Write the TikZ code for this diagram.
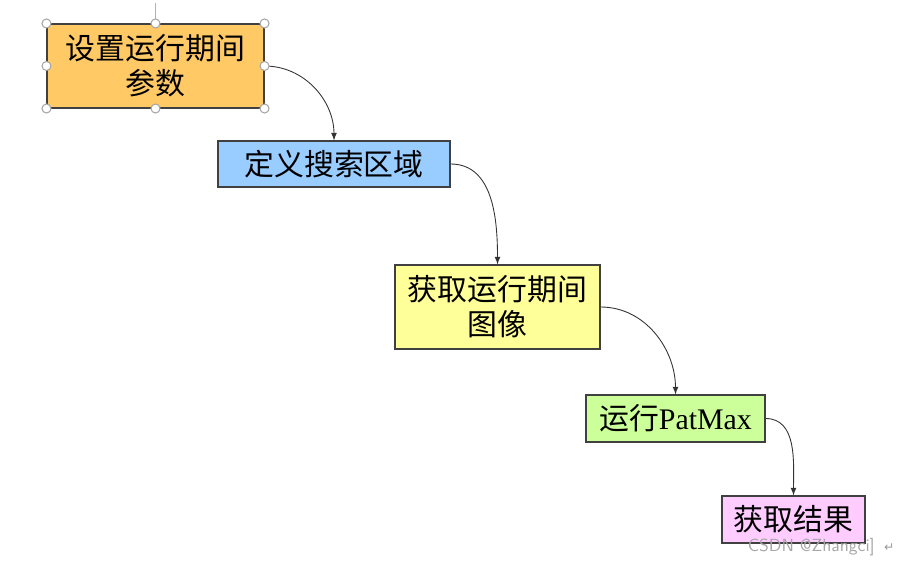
\documentclass[tikz,border=0pt]{standalone}
\usepackage{fontspec}
\setmainfont{Liberation Serif}
\newfontfamily\cjk{Noto Sans CJK SC}
\newfontfamily\marksfont{DejaVu Sans}
\usetikzlibrary{positioning}
\definecolor{paramfill}{HTML}{FFC966}
\definecolor{regionfill}{HTML}{99CCFF}
\definecolor{imagefill}{HTML}{FFFF99}
\definecolor{patmaxfill}{HTML}{CCFF99}
\definecolor{resultfill}{HTML}{FFCCFF}

\begin{document}
\begin{tikzpicture}[
    % Basic styling
    every node/.style={
        align=center,
        font=\fontsize{17}{20}\selectfont
    },
    % Custom styles for the boxes
    stage/.style={
        draw=black!75,
        line width=0.6pt,
        inner sep=0pt
    },
    link/.style={
        -latex,
        black!80,
        line width=0.5pt
    },
    handle/.style={
        circle,
        draw=gray!70,
        fill=white,
        line width=0.6pt,
        minimum size=0.18cm,
        inner sep=0pt
    }
]
    \useasboundingbox (0,0) rectangle (17.96,-11.3);

    % Process stages
    \node[stage, fill=paramfill, minimum width=4.34cm, minimum height=1.68cm] (params) at (3.11,-1.32) {\cjk 设置运行期间\\\cjk 参数};
    \node[stage, fill=regionfill, minimum width=4.64cm, minimum height=0.92cm] (region) at (6.68,-3.28) {\cjk 定义搜索区域};
    \node[stage, fill=imagefill, minimum width=4.10cm, minimum height=1.68cm] (image) at (9.95,-6.14) {\cjk 获取运行期间\\\cjk 图像};
    \node[stage, fill=patmaxfill, minimum width=3.58cm, minimum height=0.94cm] (patmax) at (13.51,-8.37) {{\cjk 运行}PatMax};
    \node[stage, fill=resultfill, minimum width=2.86cm, minimum height=0.94cm] (result) at (15.87,-10.39) {\cjk 获取结果};

    % Connect stages
    \draw[link] (params.east) to[out=0, in=90] (region.north);
    \draw[link] (region.east) to[out=0, in=90] (image.north);
    \draw[link] (image.east) to[out=0, in=90] (patmax.north);
    \draw[link] (patmax.east) to[out=0, in=90] (result.north);

    % Selection handles
    \coordinate (rotor) at (3.11,-0.06);
    \draw[gray!60, line width=0.6pt] (rotor) -- (params.north);
    \foreach \pos in {north west, north, north east, west, east, south west, south, south east}
        \node[handle] (handle-\pos) at (params.\pos) {};

    % Watermark
    \node[font=\sffamily\fontsize{10}{11}\selectfont, text=gray!70, anchor=east] (mark) at (17.62,-10.95) {CSDN @Zhangci]};
    \node[font=\marksfont\fontsize{7}{8}\selectfont, text=gray!80, right=0.02cm of mark, inner sep=1pt] (ret) {↵};
\end{tikzpicture}
\end{document}
